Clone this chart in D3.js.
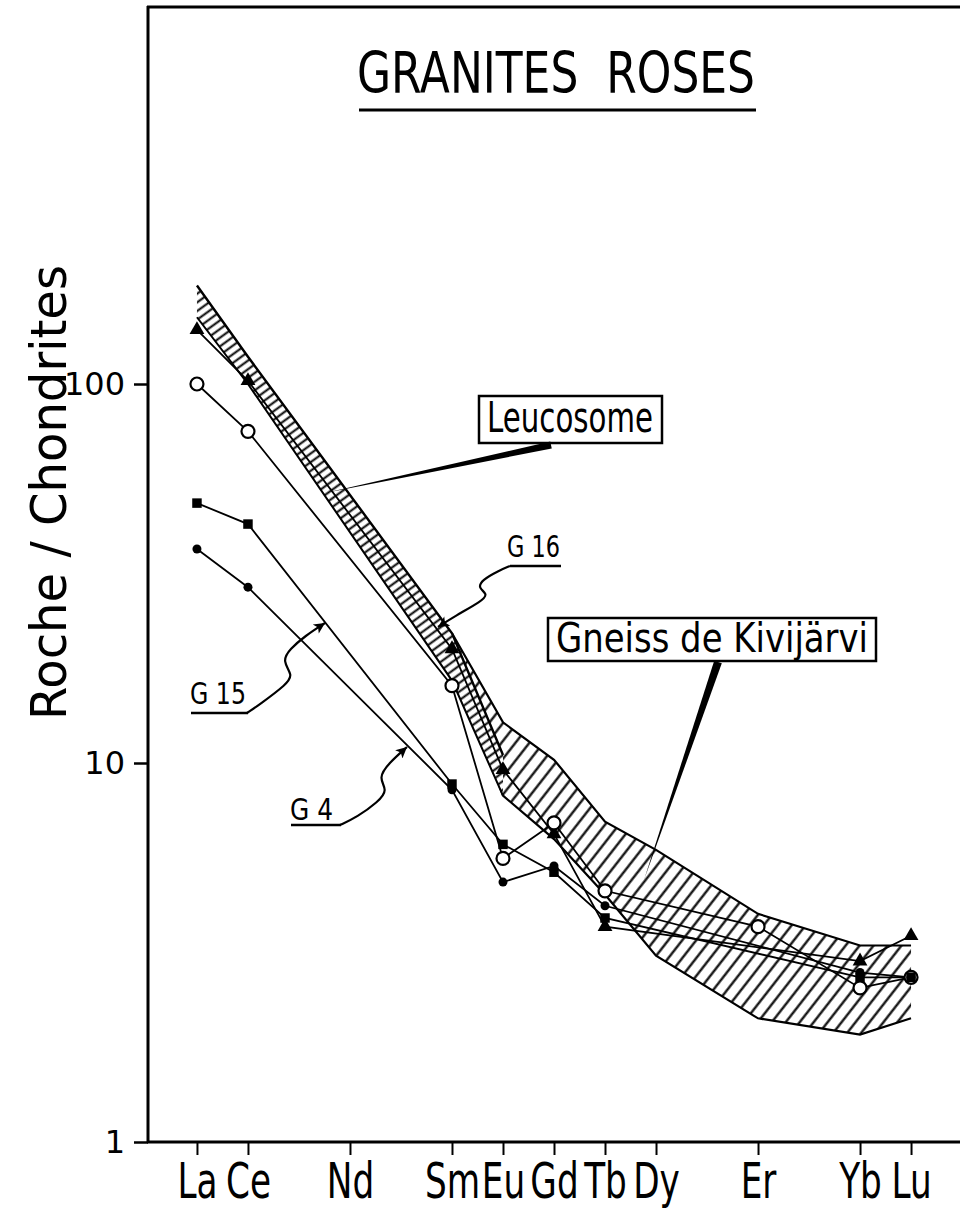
<!DOCTYPE html>
<html><head><meta charset="utf-8">
<script src="https://cdn.jsdelivr.net/npm/d3@7"></script>
<style>html,body{margin:0;background:#fff}</style>
</head><body><svg id="c" width="960" height="1209" xmlns="http://www.w3.org/2000/svg"></svg>
<script>
// ---------- DATA ----------
const elements      = ["La","Ce","Nd","Sm","Eu","Gd","Tb","Dy","Er","Yb","Lu"];
const atomicNumbers = [57, 58, 60, 62, 63, 64, 65, 66, 68, 70, 71];
const yTicks = [1, 10, 100];

// samples (rock / chondrite), null = not analysed
const g16        = [139, 102, null, 20,  9.6,  6.5,  3.7,  null, null, 3.0,  3.5 ]; // filled triangles
const sampleOpen = [100, 75,  null, 16,  5.6,  6.95, 4.6,  null, 3.7,  2.55, 2.72]; // open circles
const g15        = [48.5,42.7,null, 8.8, 6.1,  5.15, 3.9,  null, null, 2.72, 2.72]; // filled squares
const g4         = [36.7,29.1,null, 8.5, 4.85, 5.35, 4.2,  null, null, 2.8,  2.72]; // filled dots

// envelopes
const leucoUpper  = [182, 118, null, 22,  10.5, null, null, null, null, null, null];
const leucoLower  = [150, 100, null, 16.5, 8.2, null, null, null, null, null, null];
const gneissUpper = [null,null,null, 22,  12.8, 10.2, 7.0,  5.9,  4.0,  3.3,  3.3 ];
const gneissLower = [null,null,null, 19,  8.2,  6.3,  4.5,  3.1,  2.12, 1.92, 2.12];

// ---------- SETUP ----------
const svg = d3.select("#c");
const FONT = "'DejaVu Sans', 'Liberation Sans', sans-serif";
const x = d3.scaleLinear().domain([56.04, 71.96]).range([148, 960]);
const y = d3.scaleLog().domain([1, 1000]).range([1142, 5]);

svg.append("rect").attr("width",960).attr("height",1209).attr("fill","#fff");

const defs = svg.append("defs");
const pg = defs.append("pattern").attr("id","gneissHatch").attr("patternUnits","userSpaceOnUse")
  .attr("width",11).attr("height",11).attr("patternTransform","rotate(-52)");
pg.append("rect").attr("width",11).attr("height",11).attr("fill","#fff");
pg.append("line").attr("x1",0).attr("x2",11).attr("y1",5.5).attr("y2",5.5)
  .attr("stroke","#000").attr("stroke-width",2.2);

const pl = defs.append("pattern").attr("id","leucoHatch").attr("patternUnits","userSpaceOnUse")
  .attr("width",7).attr("height",7).attr("patternTransform","rotate(-36)");
pl.append("rect").attr("width",7).attr("height",7).attr("fill","#fff");
pl.append("line").attr("x1",0).attr("x2",7).attr("y1",3.5).attr("y2",3.5)
  .attr("stroke","#000").attr("stroke-width",2);

defs.append("marker").attr("id","arrow").attr("viewBox","0 0 10 10")
  .attr("refX",10).attr("refY",5).attr("markerUnits","userSpaceOnUse")
  .attr("markerWidth",16).attr("markerHeight",11).attr("orient","auto")
  .append("path").attr("d","M0,0 L10,5 L0,10 L2.5,5 z").attr("fill","#000");

// ---------- BANDS ----------
function bandPts(up, lo){
  return atomicNumbers.map((z,i)=>({z, hi:up[i], lo:lo[i]})).filter(d=>d.hi!=null && d.lo!=null);
}
const area = d3.area().x(d=>x(d.z)).y0(d=>y(d.lo)).y1(d=>y(d.hi));
const edgeHi = d3.line().x(d=>x(d.z)).y(d=>y(d.hi));
const edgeLo = d3.line().x(d=>x(d.z)).y(d=>y(d.lo));

const gB = bandPts(gneissUpper, gneissLower);
svg.append("path").attr("d", area(gB)).attr("fill","url(#gneissHatch)");
svg.append("path").attr("d", edgeHi(gB)).attr("fill","none").attr("stroke","#000").attr("stroke-width",2.2);
svg.append("path").attr("d", edgeLo(gB)).attr("fill","none").attr("stroke","#000").attr("stroke-width",2.2);

const lB = bandPts(leucoUpper, leucoLower);
svg.append("path").attr("d", area(lB)).attr("fill","url(#leucoHatch)");
svg.append("path").attr("d", edgeHi(lB)).attr("fill","none").attr("stroke","#000").attr("stroke-width",2.4);
svg.append("path").attr("d", edgeLo(lB)).attr("fill","none").attr("stroke","#000").attr("stroke-width",2);

// ---------- FRAME & AXES ----------
const frame = svg.append("g").attr("stroke","#000").attr("stroke-width",3).attr("fill","none");
frame.append("line").attr("x1",148).attr("x2",148).attr("y1",6).attr("y2",1143);
frame.append("line").attr("x1",147).attr("x2",960).attr("y1",7).attr("y2",7);
frame.append("line").attr("x1",147).attr("x2",960).attr("y1",1142).attr("y2",1142);

const gy = svg.append("g").attr("transform","translate(148,0)")
  .call(d3.axisLeft(y).tickValues(yTicks).tickFormat(d3.format("d")).tickSize(14).tickPadding(9));
gy.select(".domain").remove();
gy.selectAll(".tick line").attr("stroke","#000").attr("stroke-width",2.5);
gy.selectAll(".tick text").attr("font-family",FONT).attr("font-size",32).attr("fill","#000");

const gx = svg.append("g").attr("transform","translate(0,1142)")
  .call(d3.axisBottom(x).tickValues(atomicNumbers)
    .tickFormat(d=>elements[atomicNumbers.indexOf(d)]).tickSize(13).tickPadding(8));
gx.select(".domain").remove();
gx.selectAll(".tick line").attr("stroke","#000").attr("stroke-width",2);
gx.selectAll(".tick text").attr("font-family",FONT).attr("font-size",49).attr("fill","#000")
  .attr("transform","scale(0.7,1)");

// ---------- SERIES ----------
const series = [
  {vals:g16, sym:"tri"},
  {vals:sampleOpen, sym:"open"},
  {vals:g15, sym:"sq"},
  {vals:g4, sym:"dot"}
];
const ln = d3.line().x(d=>x(d.z)).y(d=>y(d.v));
series.forEach(s=>{
  s.pts = atomicNumbers.map((z,i)=>({z, v:s.vals[i]})).filter(d=>d.v!=null);
  svg.append("path").attr("d", ln(s.pts)).attr("fill","none").attr("stroke","#000").attr("stroke-width",1.8);
});
series.forEach(s=>{
  const g = svg.append("g");
  s.pts.forEach(d=>{
    const px = x(d.z), py = y(d.v);
    if (s.sym==="open") g.append("circle").attr("cx",px).attr("cy",py).attr("r",6.5)
        .attr("fill","#fff").attr("stroke","#000").attr("stroke-width",2.2);
    else if (s.sym==="dot") g.append("circle").attr("cx",px).attr("cy",py).attr("r",4.5).attr("fill","#000");
    else if (s.sym==="sq") g.append("path").attr("d", d3.symbol(d3.symbolSquare, 90)())
        .attr("transform",`translate(${px},${py})`).attr("fill","#000");
    else g.append("path").attr("d", d3.symbol(d3.symbolTriangle, 95)())
        .attr("transform",`translate(${px},${py})`).attr("fill","#000");
  });
});

// ---------- TEXT & ANNOTATIONS ----------
function txt(xp, yp, s, size, len, anchor){
  return svg.append("text").attr("x",xp).attr("y",yp).text(s)
    .attr("font-family",FONT).attr("font-size",size).attr("fill","#000")
    .attr("text-anchor",anchor||"start")
    .attr("textLength",len).attr("lengthAdjust","spacingAndGlyphs");
}
// title (double space kept)
txt(357, 93, "GRANITES\u00A0\u00A0ROSES", 57, 398);
svg.append("line").attr("x1",359).attr("x2",756).attr("y1",110).attr("y2",110).attr("stroke","#000").attr("stroke-width",3);

// y label
svg.append("text").attr("transform","translate(66,720) rotate(-90)").text("Roche / Chondrites")
  .attr("font-family",FONT).attr("font-size",49).attr("fill","#000")
  .attr("textLength",455).attr("lengthAdjust","spacingAndGlyphs");

// Leucosome box
svg.append("rect").attr("x",479).attr("y",396).attr("width",183).attr("height",47)
  .attr("fill","#fff").attr("stroke","#000").attr("stroke-width",2.5);
txt(487, 432, "Leucosome", 42, 166);
function wedge(x1,y1,w,x2,y2){
  const dx=x2-x1, dy=y2-y1, L=Math.hypot(dx,dy), nx=-dy/L*w/2, ny=dx/L*w/2;
  return `M${x1+nx},${y1+ny} L${x2},${y2} L${x1-nx},${y1-ny} Z`;
}
svg.append("path").attr("d", wedge(551,445,7,325,493)).attr("fill","#000");

// Gneiss box
svg.append("rect").attr("x",548).attr("y",618).attr("width",328).attr("height",43)
  .attr("fill","#fff").attr("stroke","#000").attr("stroke-width",2.5);
txt(556, 652, "Gneiss de Kivijärvi", 41, 312);
svg.append("path").attr("d", wedge(718,662,8,644,880)).attr("fill","#000");

// G labels with curly leaders
const curve = d3.line().curve(d3.curveBasis);
function gLabel(label, tx, ty, len, ul, pts){
  txt(tx, ty, label, 30, len);
  svg.append("line").attr("x1",ul[0]).attr("x2",ul[1]).attr("y1",ul[2]).attr("y2",ul[2])
    .attr("stroke","#000").attr("stroke-width",2.5);
  svg.append("path").attr("d", curve(pts)).attr("fill","none").attr("stroke","#000")
    .attr("stroke-width",2.2).attr("marker-end","url(#arrow)");
}
gLabel("G 16", 507, 557, 53, [510,561,566],
  [[510,566],[498,571],[482,580],[478,588],[488,594],[482,601],[455,616],[438,627]]);
gLabel("G 15", 190, 704, 56, [191,248,713],
  [[247,713],[259,705],[287,684],[293,675],[282,661],[290,649],[305,636],[325,623]]);
gLabel("G 4", 290, 820, 43, [291,341,825],
  [[340,825],[357,817],[378,802],[388,790],[378,778],[389,763],[407,747]]);
</script></body></html>
